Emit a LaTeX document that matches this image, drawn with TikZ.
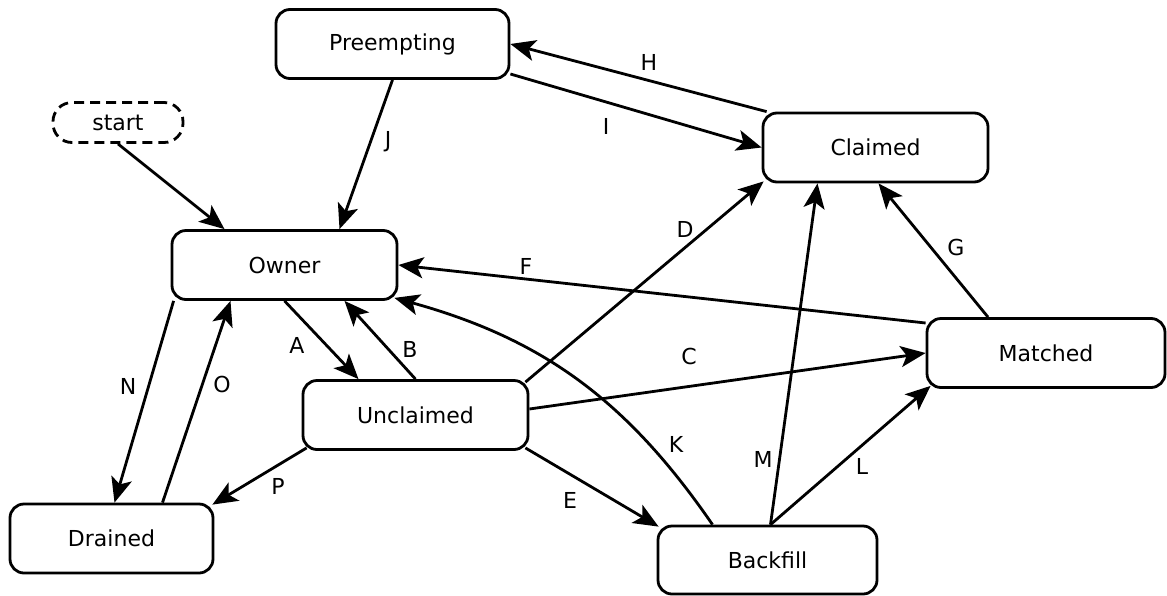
\documentclass[tikz,border=0pt]{standalone}
\usepackage{fontspec}
\setmainfont{DejaVu Sans}
\usetikzlibrary{arrows.meta}
\begin{document}
\begin{tikzpicture}[x=1pt,y=-1pt,
  state/.style={draw, line width=2.8pt, rounded corners=14pt, minimum height=69pt, inner sep=0pt, font=\fontsize{22}{26}\selectfont},
  startbox/.style={draw, line width=2.8pt, dash pattern=on 10pt off 6pt, rounded corners=19pt, minimum width=130pt, minimum height=40pt, inner sep=0pt, font=\fontsize{22}{26}\selectfont},
  arr/.style={line width=2.8pt, -{Stealth[length=25pt,width=21pt,inset=6pt]}},
  lbl/.style={inner sep=0pt, font=\fontsize{22}{26}\selectfont}
]
\useasboundingbox (0,0) rectangle (1167,595);

\node[startbox] (start) at (118,122.5) {start};
\node[state, minimum width=233pt] (preempting) at (392.5,44) {Preempting};
\node[state, minimum width=225pt] (claimed) at (875.5,147.5) {Claimed};
\node[state, minimum width=225pt] (owner) at (284.5,265) {Owner};
\node[state, minimum width=238pt] (matched) at (1046,353) {Matched};
\node[state, minimum width=225pt] (unclaimed) at (415.5,415) {Unclaimed};
\node[state, minimum width=203pt] (drained) at (111.5,538.5) {Drained};
\node[state, minimum width=219pt, minimum height=68pt] (backfill) at (767.5,560) {Backfill};

\draw[arr] (start.south) -- ([xshift=-60pt]owner.north);
\draw[arr] (preempting.south) -- ([xshift=55pt]owner.north);
\draw[arr] ([xshift=5pt]claimed.north west) -- (preempting.east);
\draw[arr] ([yshift=-30pt]preempting.east) -- (claimed.west);
\draw[arr] (owner.south) -- ([xshift=-57pt]unclaimed.north);
\draw[arr] (unclaimed.north) -- ([xshift=60pt]owner.south);
\draw[arr] ([xshift=-4pt,yshift=-3pt]unclaimed.north east) -- ([xshift=2pt,yshift=2pt]claimed.south west);
\draw[arr] ([xshift=-58pt]matched.north) -- ([xshift=3pt]claimed.south);
\draw[arr] ([xshift=3pt]backfill.north) -- ([xshift=-58pt]claimed.south);
\draw[arr] ([yshift=30pt]matched.west) -- (owner.east);
\draw[arr] ([yshift=6pt]unclaimed.east) -- (matched.west);
\draw[arr] ([xshift=-4pt,yshift=3pt]unclaimed.south east) -- ([xshift=2pt,yshift=-2pt]backfill.north west);
\draw[arr] ([xshift=5pt,yshift=3pt]unclaimed.south west) -- ([xshift=-2pt,yshift=-2pt]drained.north east);
\draw[arr] ([xshift=3pt]owner.south west) -- ([xshift=3pt]drained.north);
\draw[arr] ([xshift=51pt]drained.north) -- ([xshift=-54pt]owner.south);
\draw[arr] ([xshift=-55pt]backfill.north) to[bend right=20] ([xshift=-4pt,yshift=3pt]owner.south east);
\draw[arr] ([xshift=3pt]backfill.north) -- ([yshift=3pt,xshift=5pt]matched.south west);

\node[lbl] (lJ) at (388,142) {J};
\node[lbl] (lH) at (649,62) {H};
\node[lbl] (lI) at (606,126) {I};
\node[lbl] (lA) at (297,345) {A};
\node[lbl] (lB) at (410,349) {B};
\node[lbl] (lD) at (685,229) {D};
\node[lbl] (lG) at (956,247) {G};
\node[lbl] (lF) at (526,266) {F};
\node[lbl] (lC) at (689,356) {C};
\node[lbl] (lE) at (570,500) {E};
\node[lbl] (lP) at (278,486) {P};
\node[lbl] (lN) at (128,386) {N};
\node[lbl] (lO) at (222,384) {O};
\node[lbl] (lK) at (676,444) {K};
\node[lbl] (lM) at (763,459) {M};
\node[lbl] (lL) at (862,466) {L};
\end{tikzpicture}
\end{document}
